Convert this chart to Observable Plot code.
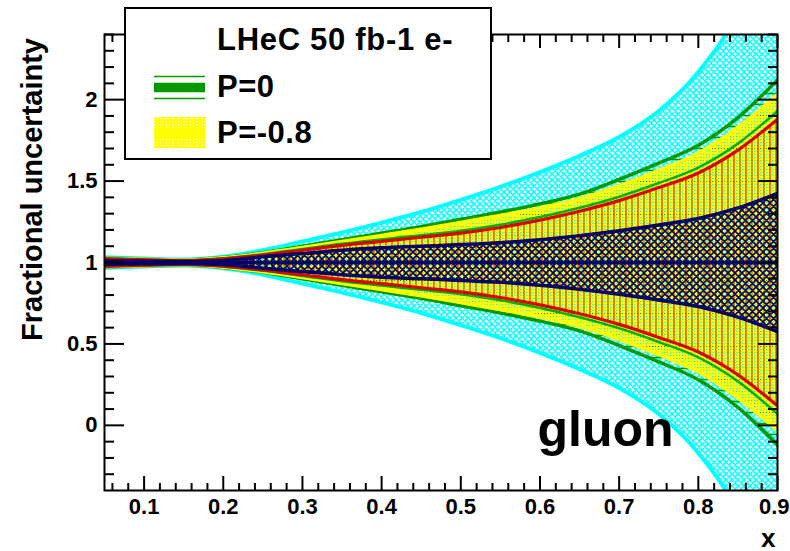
<!DOCTYPE html>
<html><head><meta charset="utf-8">
<script src="https://cdn.jsdelivr.net/npm/d3@7"></script>
<script src="https://cdn.jsdelivr.net/npm/@observablehq/plot@0.6"></script>
<style>
html,body{margin:0;padding:0;background:#fff;}
#wrap{position:relative;width:790px;height:551px;overflow:hidden;}
#wrap svg{position:absolute;left:0;top:0;}
</style></head><body><div id="wrap"></div>
<script>
// x grid of the bands
const xs       = [0.05, 0.1, 0.15, 0.2, 0.25, 0.3, 0.35, 0.4, 0.45, 0.5, 0.55, 0.6, 0.65, 0.7, 0.75, 0.8, 0.85, 0.9];
// half-widths of the uncertainty bands around 1
const cyanBand   = [0.032, 0.024, 0.018, 0.035, 0.075, 0.13, 0.185, 0.245, 0.31, 0.385, 0.465, 0.555, 0.655, 0.77, 0.93, 1.17, 1.55, 2.3];
const greenBand  = [0.027, 0.02, 0.015, 0.03, 0.06, 0.1, 0.14, 0.18, 0.22, 0.265, 0.31, 0.36, 0.42, 0.51, 0.61, 0.72, 0.89, 1.12];
const yellowBand = [0.025, 0.018, 0.013, 0.027, 0.055, 0.09, 0.128, 0.165, 0.203, 0.245, 0.287, 0.333, 0.39, 0.47, 0.565, 0.67, 0.83, 1.03];
const innerGreen = [0.026, 0.019, 0.013, 0.026, 0.051, 0.083, 0.115, 0.142, 0.168, 0.195, 0.232, 0.279, 0.336, 0.404, 0.488, 0.583, 0.73, 0.93];
const redBand    = [0.022, 0.016, 0.011, 0.022, 0.045, 0.075, 0.105, 0.13, 0.155, 0.18, 0.215, 0.26, 0.315, 0.38, 0.46, 0.55, 0.69, 0.88];
const navyBand   = [0.01, 0.008, 0.006, 0.012, 0.035, 0.055, 0.075, 0.09, 0.1, 0.11, 0.122, 0.14, 0.165, 0.195, 0.23, 0.27, 0.335, 0.425];

const xTicks = [0.1, 0.2, 0.3, 0.4, 0.5, 0.6, 0.7, 0.8, 0.9];
const xTickLabels = ["0.1", "0.2", "0.3", "0.4", "0.5", "0.6", "0.7", "0.8", "0.9"];
const yTicks = [0, 0.5, 1, 1.5, 2];
const yTickLabels = ["0", "0.5", "1", "1.5", "2"];
const legendTitle = "LHeC 50 fb-1 e-";
const legendLabels = ["P=0", "P=-0.8"];

const xMinor = d3.range(3, 46).map(i => +(i * 0.02).toFixed(2)).filter(v => !xTicks.some(t => Math.abs(t - v) < 1e-9));
const yMinor = d3.range(-3, 25).map(i => +(i * 0.1).toFixed(1)).filter(v => !yTicks.some(t => Math.abs(t - v) < 1e-9));

const rows = xs.map((x, i) => ({x, cyan: cyanBand[i], green: greenBand[i], yellow: yellowBand[i], ig: innerGreen[i], red: redBand[i], navy: navyBand[i]}));

const FONT = "Liberation Sans, Arial, Helvetica, sans-serif";
const C = {cyan: "#00ffff", green: "#009900", yellow: "#ffff00", ig: "#00b000", red: "#dd0000", navy: "#000066"};

function band(key, fill) {
  return Plot.areaY(rows, {x: "x", y1: d => 1 - d[key], y2: d => 1 + d[key], fill, curve: "monotone-x", clip: true});
}
function edges(key, stroke, strokeWidth) {
  return [
    Plot.lineY(rows, {x: "x", y: d => 1 + d[key], stroke, strokeWidth, curve: "monotone-x", clip: true}),
    Plot.lineY(rows, {x: "x", y: d => 1 - d[key], stroke, strokeWidth, curve: "monotone-x", clip: true})
  ];
}
const tickOpts = {stroke: "black", strokeWidth: 2, label: null, tickFormat: () => "", fill: "none"};
const lastX = xTicks[xTicks.length - 1];
const labelOpts = {tickSize: 0, fontSize: 22, fontWeight: "bold", label: null, letterSpacing: 0.3};

const svg = Plot.plot({
  width: 790, height: 551,
  marginLeft: 104, marginRight: 13, marginTop: 34, marginBottom: 61,
  style: {fontFamily: FONT, fontWeight: "bold", background: "white", overflow: "visible"},
  x: {domain: [0.05, 0.9]},
  y: {domain: [-0.4, 2.4]},
  marks: [
    band("cyan", "url(#cyanX)"),
    band("green", "url(#greenH)"),
    band("yellow", "url(#yellowDots)"),
    band("red", "url(#redV)"),
    band("navy", "url(#navyX)"),
    ...edges("cyan", C.cyan, 4),
    ...edges("green", C.green, 3.5),
    ...edges("yellow", C.yellow, 4),
    ...edges("ig", C.ig, 2.5),
    ...edges("red", C.red, 3.2),
    ...edges("navy", C.navy, 3.5),
    Plot.ruleY([1], {stroke: C.navy, strokeWidth: 3.5, clip: true}),
    // axes: ticks inward on all four sides
    Plot.axisY(yTicks, {...tickOpts, anchor: "left", tickSize: -20}),
    Plot.axisY(yMinor, {...tickOpts, anchor: "left", tickSize: -10}),
    Plot.axisY(yTicks, {...tickOpts, anchor: "right", tickSize: -20}),
    Plot.axisY(yMinor, {...tickOpts, anchor: "right", tickSize: -10}),
    Plot.axisX(xTicks, {...tickOpts, anchor: "bottom", tickSize: -14}),
    Plot.axisX(xMinor, {...tickOpts, anchor: "bottom", tickSize: -7}),
    Plot.axisX(xTicks, {...tickOpts, anchor: "top", tickSize: -13}),
    Plot.axisX(xMinor, {...tickOpts, anchor: "top", tickSize: -7}),
    Plot.axisY(yTicks, {...labelOpts, anchor: "left", tickPadding: 7,
      tickFormat: d => yTickLabels[yTicks.indexOf(d)]}),
    Plot.axisX(xTicks.slice(0, -1), {...labelOpts, anchor: "bottom", tickPadding: 8,
      tickFormat: d => xTickLabels[xTicks.indexOf(d)]}),
    Plot.axisX([lastX], {...labelOpts, anchor: "bottom", tickPadding: 8,
      textAnchor: "end", dx: 12, tickFormat: d => xTickLabels[xTicks.indexOf(d)]}),
    Plot.frame({stroke: "black", strokeWidth: 2}),
    Plot.text(["gluon"], {text: d => d, frameAnchor: "bottom-left", dx: 433, dy: -45, textAnchor: "start", lineAnchor: "bottom", fontSize: 50, fontWeight: "bold"}),
    Plot.text(["x"], {text: d => d, frameAnchor: "bottom-right", dx: -2, dy: 56, textAnchor: "end", lineAnchor: "bottom", fontSize: 26, fontWeight: "bold"}),
    Plot.text(["Fractional uncertainty"], {text: d => d, frameAnchor: "left", dx: -63, dy: -73, rotate: -90, textAnchor: "middle", lineAnchor: "bottom", fontSize: 29, fontWeight: "bold"})
  ]
});

// patterns
const defs = d3.select(svg).insert("defs", ":first-child");
function pat(id, w, h) {
  return defs.append("pattern").attr("id", id).attr("patternUnits", "userSpaceOnUse").attr("width", w).attr("height", h);
}
pat("cyanX", 6, 6).append("path").attr("d", "M0,0L6,6M6,0L0,6M-1,5L1,7M5,-1L7,1M-1,1L1,-1M5,7L7,5")
  .attr("stroke", C.cyan).attr("stroke-width", 1.5).attr("fill", "none");
pat("navyX", 7, 7).append("path").attr("d", "M0,0L7,7M7,0L0,7M-1,6L1,8M6,-1L8,1M-1,1L1,-1M6,8L8,6")
  .attr("stroke", C.navy).attr("stroke-width", 1.6).attr("fill", "none");
pat("greenH", 8, 11).append("path").attr("d", "M0,5.5H8").attr("stroke", C.green).attr("stroke-width", 1.5);
pat("yellowDots", 3, 3).append("path").attr("d", "M0,0H3V3H0Z M1,1H2V2H1Z")
  .attr("fill", C.yellow).attr("fill-rule", "evenodd");
const rv = pat("redV", 12, 12);
rv.append("path").attr("d", "M2,0V12").attr("stroke", "#dd1100").attr("stroke-width", 1.1);
rv.append("path").attr("d", "M8,0V12").attr("stroke", "#a86400").attr("stroke-width", 1.3);

const wrap = document.getElementById("wrap");
wrap.appendChild(svg);

// legend overlay
const lg = d3.select(wrap).append("svg").attr("width", 790).attr("height", 551)
  .style("pointer-events", "none").attr("font-family", FONT).attr("font-weight", "bold");
lg.append("rect").attr("x", 125).attr("y", 8).attr("width", 366).attr("height", 151)
  .attr("fill", "white").attr("stroke", "black").attr("stroke-width", 2);
lg.append("text").attr("x", 217).attr("y", 50).attr("font-size", 31).attr("letter-spacing", 0.7).text(legendTitle);
// P=0 swatch
lg.append("line").attr("x1", 154).attr("x2", 205).attr("y1", 76.5).attr("y2", 76.5).attr("stroke", C.green).attr("stroke-width", 1.5);
lg.append("line").attr("x1", 154).attr("x2", 205).attr("y1", 98.5).attr("y2", 98.5).attr("stroke", C.green).attr("stroke-width", 1.5);
lg.append("line").attr("x1", 154).attr("x2", 205).attr("y1", 87.5).attr("y2", 87.5).attr("stroke", C.green).attr("stroke-width", 9.5);
lg.append("text").attr("x", 217).attr("y", 97).attr("font-size", 31).attr("letter-spacing", 0.5).text(legendLabels[0]);
// P=-0.8 swatch
lg.append("rect").attr("x", 154).attr("y", 117).attr("width", 51).attr("height", 31).attr("fill", "url(#yellowDots)");
lg.append("line").attr("x1", 154).attr("x2", 205).attr("y1", 132.5).attr("y2", 132.5).attr("stroke", C.yellow).attr("stroke-width", 9.5);
lg.append("text").attr("x", 217).attr("y", 143).attr("font-size", 31).attr("letter-spacing", 0.5).text(legendLabels[1]);
</script></body></html>
